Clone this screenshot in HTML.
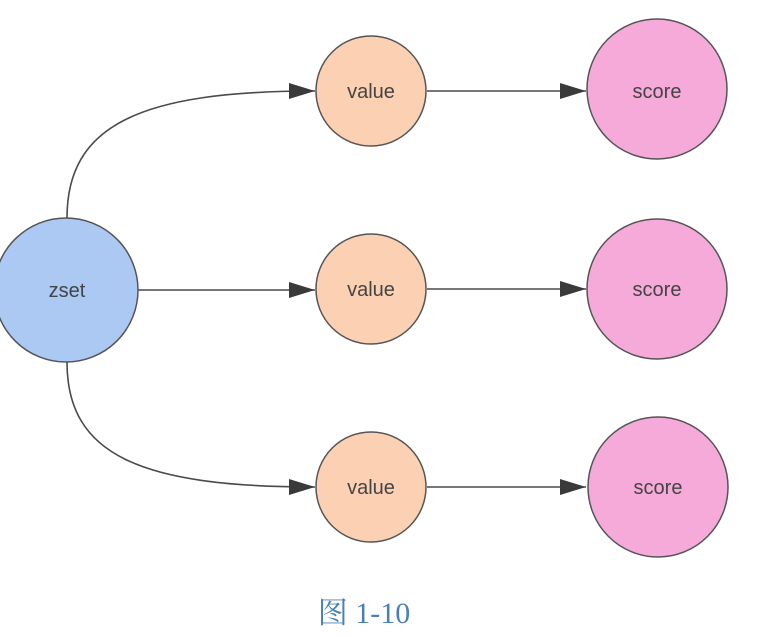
<!DOCTYPE html>
<html><head><meta charset="utf-8"><style>
html,body{margin:0;padding:0;background:#fff;}
svg{display:block;}
</style></head><body>
<svg width="765" height="637" viewBox="0 0 765 637" xmlns="http://www.w3.org/2000/svg">
<defs>
<marker id="a" markerWidth="26" markerHeight="16" refX="26" refY="8" orient="auto" markerUnits="userSpaceOnUse" viewBox="0 0 26 16">
<path d="M0,0 L26,8 L0,16 Z" fill="#3a3a3a"/>
</marker>
</defs>
<g fill="none" stroke="#4a4a4a" stroke-width="1.6">
<path d="M67,218 C67,125 140,91 315,91" marker-end="url(#a)" />
<path d="M137,290 L315,290" marker-end="url(#a)"/>
<path d="M67,362 C67,455 140,487 315,487" marker-end="url(#a)"/>
<path d="M427,91 L586,91" marker-end="url(#a)"/>
<path d="M427,289 L586,289" marker-end="url(#a)"/>
<path d="M427,487 L586,487" marker-end="url(#a)"/>
</g>
<g stroke="#555" stroke-width="1.5">
<circle cx="66" cy="290" r="72" fill="#abc9f3"/>
<circle cx="371" cy="91" r="55" fill="#fcd1b3"/>
<circle cx="371" cy="289" r="55" fill="#fcd1b3"/>
<circle cx="371" cy="487" r="55" fill="#fcd1b3"/>
<circle cx="657" cy="89" r="70" fill="#f5aad9"/>
<circle cx="657" cy="289" r="70" fill="#f5aad9"/>
<circle cx="658" cy="487" r="70" fill="#f5aad9"/>
</g>
<g font-family="Liberation Sans, sans-serif" font-size="20" fill="#444" text-anchor="middle">
<text x="67" y="297">zset</text>
<text x="371" y="98">value</text>
<text x="371" y="296">value</text>
<text x="371" y="494">value</text>
<text x="657" y="98">score</text>
<text x="657" y="296">score</text>
<text x="658" y="494">score</text>
</g>
<text x="364" y="623" text-anchor="middle" font-family="Liberation Serif, Noto Serif CJK SC, serif" font-size="30" fill="#4a80b8">图 1-10</text>
</svg>
</body></html>
